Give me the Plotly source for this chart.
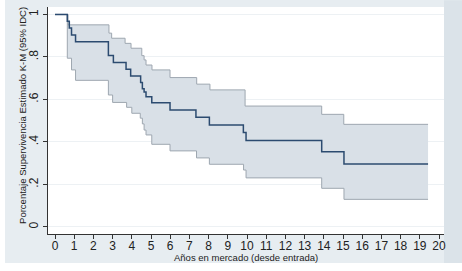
import plotly.graph_objects as go

# Kaplan-Meier step data (years, estimate)
times = [0, 0.64, 0.745, 0.86, 1.07, 2.78, 3.04, 3.70, 3.94, 4.46, 4.55, 4.64, 4.74,
         5.04, 5.99, 7.34, 8.04, 9.81, 9.95, 13.89, 15.05, 19.43]
survival = [1.0, 0.968, 0.936, 0.903, 0.871, 0.807, 0.774, 0.742, 0.71, 0.68, 0.65, 0.635,
            0.613, 0.584, 0.55, 0.516, 0.48, 0.445, 0.407, 0.354, 0.296, 0.296]

upper_t = [0, 0.68, 2.81, 2.95, 3.65, 3.96, 4.52, 4.64, 4.74, 5.05, 5.99, 7.38, 8.07,
           9.9, 13.89, 15.04, 19.43]
upper = [1.0, 0.951, 0.912, 0.888, 0.864, 0.841, 0.806, 0.786, 0.762, 0.739, 0.703, 0.672,
         0.645, 0.569, 0.53, 0.483, 0.483]

lower_t = [0, 0.64, 0.86, 1.07, 2.78, 3.0, 3.73, 4.0, 4.44, 4.55, 4.64, 4.74, 5.04, 5.99,
           7.37, 8.04, 9.82, 9.95, 13.89, 15.05, 19.43]
lower = [1.0, 0.794, 0.739, 0.69, 0.621, 0.586, 0.563, 0.535, 0.512, 0.485, 0.456, 0.433,
         0.389, 0.358, 0.325, 0.295, 0.268, 0.231, 0.182, 0.13, 0.13]

x_ticks = list(range(0, 21))
y_ticks = [0, 0.2, 0.4, 0.6, 0.8, 1]
y_tick_labels = ["0", ".2", ".4", ".6", ".8", "1"]

x_title = "Años en mercado (desde entrada)"
y_title = "Porcentaje Supervivencia Estimado K-M (95% IDC)"

FONT = "Liberation Sans Narrow, Liberation Sans, Arial, sans-serif"

fig = go.Figure()
# CI band: lower then upper filled to it
fig.add_trace(go.Scatter(x=lower_t, y=lower, mode="lines",
                         line=dict(color="#9ea7b0", width=1, shape="hv"),
                         hoverinfo="skip", showlegend=False))
fig.add_trace(go.Scatter(x=upper_t, y=upper, mode="lines",
                         line=dict(color="#9ea7b0", width=1, shape="hv"),
                         fill="tonexty", fillcolor="#d9e0e7",
                         hoverinfo="skip", showlegend=False))
fig.add_trace(go.Scatter(x=times, y=survival, mode="lines",
                         line=dict(color="#2c4b70", width=1.5, shape="hv"),
                         showlegend=False))

fig.update_layout(
    width=462, height=271,
    margin=dict(l=48, r=18, t=7, b=37),
    paper_bgcolor="#e7edf1",
    plot_bgcolor="#ffffff",
    font=dict(family=FONT, color="#222222"),
    xaxis=dict(range=[-0.365, 20.26], tickmode="array", tickvals=x_ticks,
               ticktext=[str(v) for v in x_ticks],
               showgrid=False, zeroline=False, showline=True, linecolor="#333333",
               linewidth=1, ticks="outside", ticklen=4, tickcolor="#333333",
               ticklabelstandoff=-3,
               tickfont=dict(size=12, family=FONT, color="#222222")),
    yaxis=dict(range=[-0.033, 1.035], tickmode="array", tickvals=y_ticks,
               ticktext=y_tick_labels, tickangle=-90,
               showgrid=True, gridcolor="#edf1f4", gridwidth=1,
               zeroline=False, showline=True, linecolor="#333333", linewidth=1,
               ticks="outside", ticklen=4, tickcolor="#333333",
               tickfont=dict(size=12, family=FONT, color="#222222")),
    shapes=[
        dict(type="rect", xref="paper", yref="paper", x0=1.0, x1=1.05, y0=-0.1278, y1=1.03,
             fillcolor="#dbe3e9", line=dict(width=0), layer="below"),
        dict(type="rect", xref="paper", yref="paper", x0=-0.13, x1=1.05, y0=-0.17, y1=-0.1278,
             fillcolor="#ffffff", line=dict(width=0), layer="below"),
        dict(type="rect", xref="paper", yref="paper", x0=-0.13, x1=-0.1086, y0=-0.17, y1=1.04,
             fillcolor="#ffffff", line=dict(width=0), layer="below"),
    ],
    annotations=[
        dict(text=x_title, xref="paper", yref="paper", x=0.5, y=-0.103,
             xanchor="center", yanchor="middle", showarrow=False,
             font=dict(size=9.5, family=FONT, color="#222222")),
        dict(text=y_title, xref="paper", yref="paper", x=-0.066, y=0.524,
             xanchor="center", yanchor="middle", showarrow=False, textangle=-90,
             font=dict(size=9.5, family=FONT, color="#222222")),
    ],
)

fig.write_html("out.html", config={"displayModeBar": False},
               post_script="document.body.style.margin='0';document.body.style.overflow='hidden';")
